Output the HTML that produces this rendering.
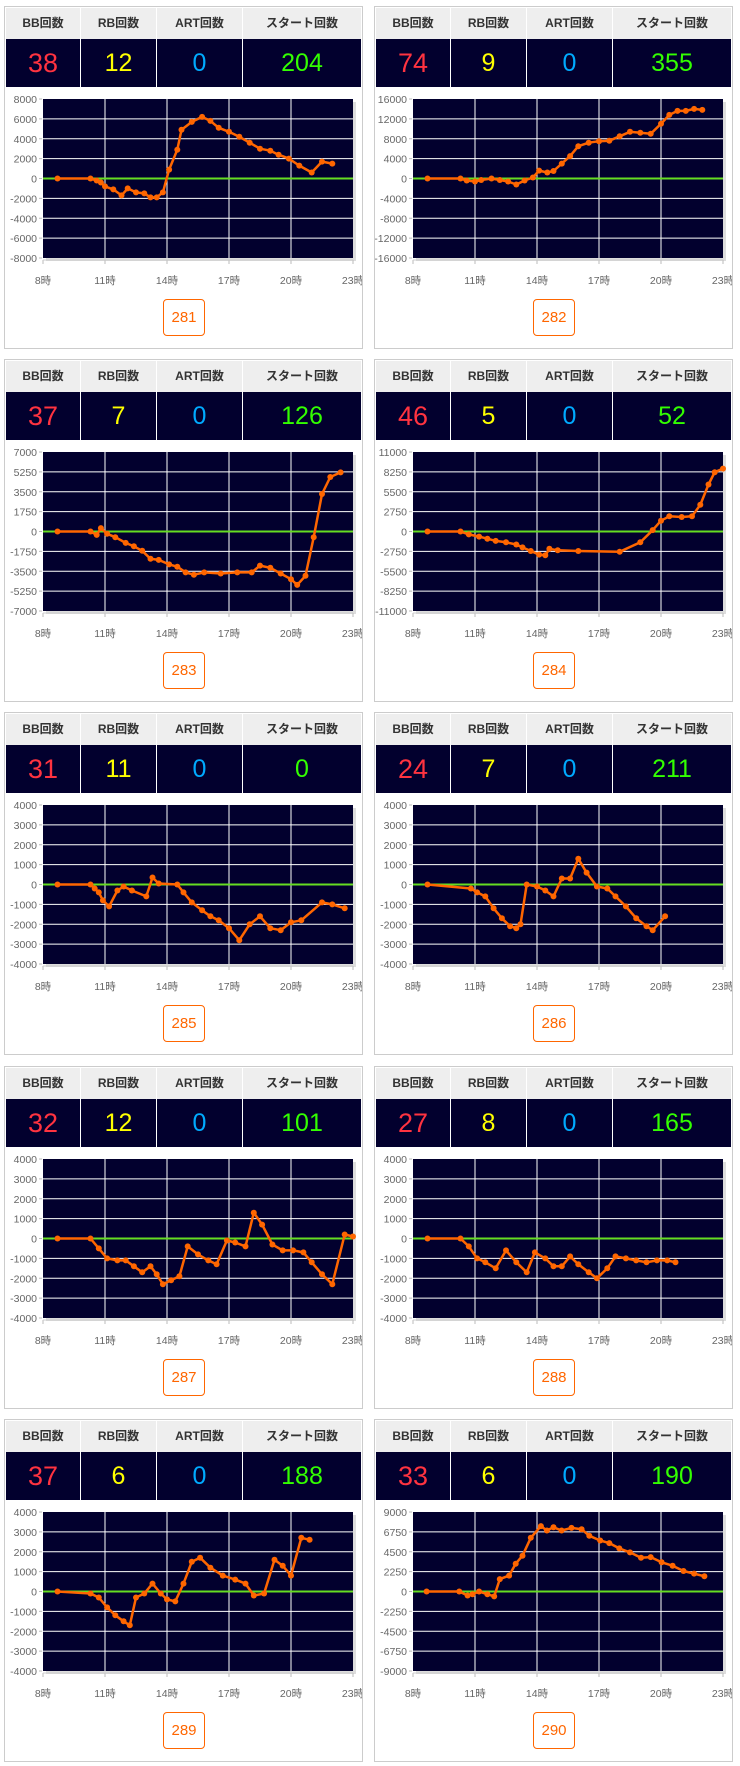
<!DOCTYPE html>
<html><head><meta charset="utf-8"><style>
body{margin:0;background:#fff;width:740px;height:1766px;position:relative;overflow:hidden;font-family:"Liberation Sans","Noto Sans CJK JP",sans-serif}
.p{position:absolute;width:357px;height:341px;border:1px solid #ccc;background:#fff}
.h{position:absolute;left:1px;top:1px;width:356px;height:31px;background:#eee}
.v{position:absolute;left:1px;top:32px;width:356px;height:48px;background:#02002e}
.c{position:absolute;top:0;height:100%;text-align:center;border-right:1px solid #fff;box-sizing:border-box}
.h .c{font-size:12px;font-weight:bold;color:#333;line-height:31px}
.v .c{font-size:25px;line-height:48px}
.b{position:absolute;left:158px;top:292px;width:40px;height:35px;border:1px solid #ff6600;border-radius:4px;color:#ff6600;font-size:15px;line-height:35px;text-align:center}
svg{position:absolute;left:0;top:0}
</style></head><body>
<div id="root"></div>
<script>
var D=[
[38,12,0,204,281,8000,[[8.7,0],[10.3,0],[10.6,-200],[10.8,-400],[11,-800],[11.4,-1100],[11.8,-1700],[12.1,-1000],[12.5,-1400],[12.9,-1500],[13.2,-1900],[13.5,-1900],[13.8,-1400],[14.1,900],[14.5,2900],[14.7,4900],[15.2,5700],[15.7,6200],[16.1,5800],[16.5,5100],[17,4700],[17.5,4200],[18,3600],[18.5,3000],[19,2800],[19.4,2400],[19.9,2000],[20.4,1300],[21,600],[21.5,1700],[22,1500]]],
[74,9,0,355,282,16000,[[8.7,0],[10.3,0],[10.6,-400],[11,-600],[11.3,-300],[11.8,0],[12.2,-300],[12.6,-600],[13,-1200],[13.4,-400],[13.8,200],[14.1,1600],[14.5,1200],[14.8,1500],[15.2,3000],[15.6,4500],[16,6500],[16.5,7200],[17,7500],[17.5,7600],[18,8500],[18.5,9400],[19,9200],[19.5,9000],[20,11000],[20.4,12800],[20.8,13600],[21.2,13600],[21.6,14000],[22,13800]]],
[37,7,0,126,283,7000,[[8.7,0],[10.3,0],[10.6,-300],[10.8,300],[11.1,-200],[11.5,-500],[12,-1000],[12.4,-1300],[12.8,-1700],[13.2,-2400],[13.6,-2500],[14.1,-2900],[14.5,-3100],[14.9,-3600],[15.3,-3800],[15.8,-3600],[16.6,-3700],[17.4,-3600],[18.1,-3600],[18.5,-3000],[19,-3200],[19.5,-3700],[20,-4200],[20.3,-4700],[20.7,-3900],[21.1,-500],[21.5,3300],[21.9,4800],[22.4,5200]]],
[46,5,0,52,284,11000,[[8.7,0],[10.3,0],[10.7,-400],[11.2,-700],[11.6,-1000],[12,-1300],[12.5,-1500],[13,-1800],[13.3,-2200],[13.7,-2700],[14.1,-3200],[14.4,-3300],[14.6,-2400],[15,-2600],[16,-2700],[18,-2800],[19,-1500],[19.6,200],[20,1500],[20.4,2100],[21,2000],[21.5,2100],[21.9,3700],[22.3,6500],[22.6,8200],[23,8700]]],
[31,11,0,0,285,4000,[[8.7,0],[10.3,0],[10.5,-200],[10.7,-400],[10.9,-800],[11.2,-1100],[11.6,-300],[11.9,-100],[12.3,-300],[13,-600],[13.3,350],[13.6,50],[14.5,0],[14.8,-400],[15.2,-900],[15.7,-1300],[16.1,-1600],[16.5,-1800],[17,-2200],[17.5,-2800],[18,-2000],[18.5,-1600],[19,-2200],[19.5,-2300],[20,-1900],[20.5,-1800],[21.5,-900],[22,-1000],[22.6,-1200]]],
[24,7,0,211,286,4000,[[8.7,0],[10.8,-200],[11.1,-400],[11.5,-600],[11.9,-1200],[12.3,-1700],[12.7,-2100],[13,-2200],[13.2,-2000],[13.5,0],[14,-100],[14.4,-300],[14.8,-600],[15.2,300],[15.6,300],[16,1300],[16.4,600],[16.9,-100],[17.4,-200],[17.8,-600],[18.3,-1100],[18.8,-1700],[19.3,-2100],[19.6,-2300],[20.2,-1600]]],
[32,12,0,101,287,4000,[[8.7,0],[10.3,0],[10.7,-500],[11.1,-1000],[11.6,-1100],[12,-1100],[12.4,-1400],[12.8,-1700],[13.2,-1400],[13.5,-1800],[13.8,-2300],[14.2,-2100],[14.6,-1900],[15,-400],[15.5,-800],[16,-1100],[16.4,-1300],[16.9,-100],[17.3,-200],[17.8,-400],[18.2,1300],[18.6,700],[19.1,-300],[19.6,-600],[20.1,-600],[20.6,-700],[21,-1200],[21.5,-1800],[22,-2300],[22.6,200],[23,100]]],
[27,8,0,165,288,4000,[[8.7,0],[10.3,0],[10.7,-400],[11.1,-1000],[11.5,-1200],[12,-1500],[12.5,-600],[13,-1200],[13.5,-1700],[13.9,-700],[14.4,-1000],[14.8,-1400],[15.2,-1400],[15.6,-900],[16,-1300],[16.5,-1700],[16.9,-2000],[17.4,-1500],[17.8,-900],[18.3,-1000],[18.8,-1100],[19.3,-1200],[19.8,-1100],[20.3,-1100],[20.7,-1200]]],
[37,6,0,188,289,4000,[[8.7,0],[10.3,-100],[10.7,-300],[11.1,-800],[11.5,-1200],[11.9,-1500],[12.2,-1700],[12.5,-300],[12.9,-100],[13.3,400],[13.7,-100],[14,-400],[14.4,-500],[14.8,400],[15.2,1500],[15.6,1700],[16.1,1200],[16.7,800],[17.3,600],[17.8,400],[18.2,-200],[18.7,-100],[19.2,1600],[19.6,1300],[20,800],[20.5,2700],[20.9,2600]]],
[33,6,0,190,290,9000,[[8.66,0],[10.24,0],[10.64,-450],[10.88,-300],[11.2,0],[11.6,-300],[11.93,-560],[12.2,1400],[12.65,1800],[12.97,3150],[13.3,4050],[13.7,6075],[14.19,7400],[14.48,6900],[14.8,7270],[15.19,6900],[15.67,7200],[16.16,7050],[16.53,6300],[17.06,5775],[17.5,5475],[17.98,4875],[18.5,4425],[19.03,3825],[19.5,3900],[20.03,3300],[20.56,2925],[21.09,2325],[21.6,2025],[22.1,1725]]]
];
var tops=[6,359,712,1066,1419],html='';
D.forEach(function(d,i){
 var L=i%2?374:4,T=tops[Math.floor(i/2)];
 var cols=[[0,75],[75,76],[151,86],[237,119]];
 var hd=['BB回数','RB回数','ART回数','スタート回数'],cl=['#ff3340','#ffff00','#00aaff','#33ff00'];
 var s='<div class="p" style="left:'+L+'px;top:'+T+'px"><div class="h">';
 cols.forEach(function(c,k){s+='<div class="c" style="left:'+c[0]+'px;width:'+c[1]+'px">'+hd[k]+'</div>'});
 s+='</div><div class="v">';
 cols.forEach(function(c,k){s+='<div class="c" style="left:'+c[0]+'px;width:'+c[1]+'px;color:'+cl[k]+(k==0?';font-size:27px':'')+'">'+d[k]+'</div>'});
 s+='</div>';
 var px=38,py=92,pw=310,ph=159,m=d[5];
 var g='<svg width="357" height="341">';
 g+='<rect x="'+(px+3)+'" y="'+(py+3)+'" width="'+pw+'" height="'+ph+'" fill="#ddd"/>';
 g+='<rect x="'+px+'" y="'+py+'" width="'+pw+'" height="'+ph+'" fill="#02002e"/>';
 var X=function(h){return px+(h-8)*pw/15},Y=function(v){return py+ph/2-v*ph/(2*m)};
 for(var k=0;k<=8;k++){var y=py+k*ph/8;var val=m-k*m/4;var lab=(Math.round(val)===0?'0':String(Math.round(val)));
  if(k>0&&k<8)g+='<line x1="'+px+'" x2="'+(px+pw)+'" y1="'+y+'" y2="'+y+'" stroke="#fff" stroke-width="1"/>';
  g+='<line x1="'+(px-4)+'" x2="'+(px-1)+'" y1="'+y+'" y2="'+y+'" stroke="#bbb"/>';
  g+='<text x="'+(px-6)+'" y="'+(y+4)+'" font-size="10.5" fill="#666" text-anchor="end">'+lab+'</text>';}
 [8,11,14,17,20,23].forEach(function(h){var x=X(h);
  if(h>8&&h<23)g+='<line x1="'+x+'" x2="'+x+'" y1="'+py+'" y2="'+(py+ph)+'" stroke="#fff"/>';
  g+='<line x1="'+x+'" x2="'+x+'" y1="'+(py+ph+2)+'" y2="'+(py+ph+6)+'" stroke="#bbb"/>';
  g+='<text x="'+x+'" y="'+(py+ph+26)+'" font-size="10.5" fill="#666" text-anchor="middle">'+h+'時</text>';});
 g+='<line x1="'+px+'" x2="'+(px+pw)+'" y1="'+(py+ph+2)+'" y2="'+(py+ph+2)+'" stroke="#ccc"/>';
 g+='<line x1="'+px+'" x2="'+(px+pw)+'" y1="'+Y(0)+'" y2="'+Y(0)+'" stroke="#66dd22" stroke-width="2"/>';
 var pts=d[6].map(function(p){return X(p[0]).toFixed(1)+','+Y(p[1]).toFixed(1)});
 g+='<polyline points="'+pts.join(' ')+'" fill="none" stroke="#ff6600" stroke-width="2.5" stroke-linejoin="round"/>';
 d[6].forEach(function(p){g+='<circle cx="'+X(p[0]).toFixed(1)+'" cy="'+Y(p[1]).toFixed(1)+'" r="3" fill="#ff6600"/>'});
 g+='</svg>';
 s+=g+'<div class="b">'+d[4]+'</div></div>';
 html+=s;
});
document.getElementById('root').innerHTML=html;
</script>
</body></html>
